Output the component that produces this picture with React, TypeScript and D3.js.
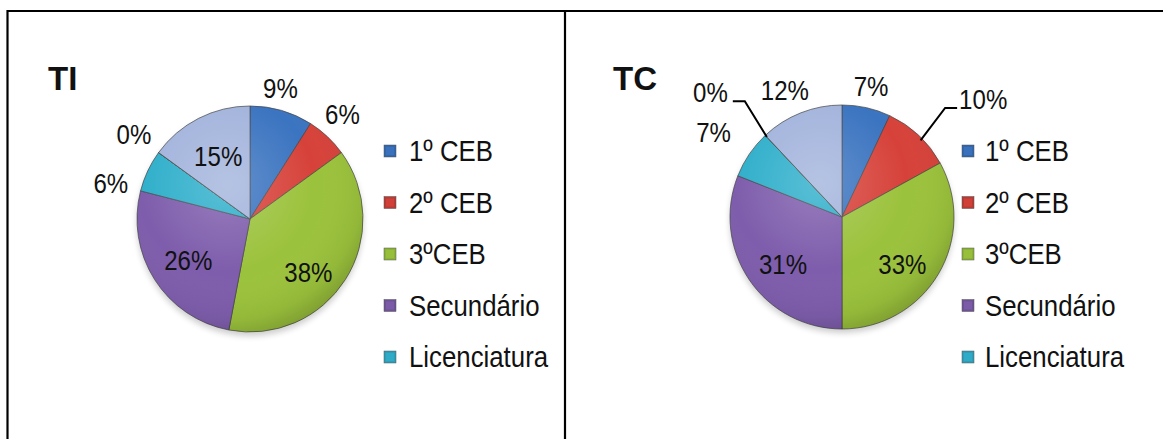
import React from 'react';
import * as d3 from 'd3';

// ---------- data ----------
const categories = ['1º CEB', '2º CEB', '3ºCEB', 'Secundário', 'Licenciatura', 'Série 6', 'Série 7'];
const legendShown = 5;
const tiValues = [9, 6, 38, 26, 6, 0, 15];
const tcValues = [7, 10, 33, 31, 7, 0, 12];
const titles = ['TI', 'TC'];

// ---------- styles / layout ----------
const colors = ['#3B74C0', '#D6423A', '#9BC23C', '#7E5DAC', '#30AFCB', '#F79646', '#A3B4DC'];
const legendColors = ['#3266AD', '#B73A33', '#8DB23A', '#6E5296', '#2E9DB8', '#E0863C', '#93A4CC'];

type LabelLayout = { rf: number; da: number; leader?: 'left' | 'right' };
const tiLabels: LabelLayout[] = [
  { rf: 1.18, da: -3 },
  { rf: 1.23, da: -1.5 },
  { rf: 0.7, da: 10 },
  { rf: 0.66, da: -1.7 },
  { rf: 1.27, da: -11 },
  { rf: 1.27, da: 0 },
  { rf: 0.62, da: 0 },
];
const tcLabels: LabelLayout[] = [
  { rf: 1.19, da: 0 },
  { rf: 1.34, da: 0, leader: 'right' },
  { rf: 0.69, da: 8 },
  { rf: 0.68, da: -5 },
  { rf: 1.37, da: -1 },
  { rf: 1.35, da: 3.2, leader: 'left' },
  { rf: 1.24, da: -2.7 },
];

const panels = [
  { values: tiValues, labels: tiLabels, title: titles[0], cx: 250, cy: 219, r: 113, titleX: 48, sqX: 384, textX: 409 },
  { values: tcValues, labels: tcLabels, title: titles[1], cx: 842, cy: 217, r: 112, titleX: 613, sqX: 962, textX: 985 },
];

const FONT = "'Liberation Sans', Arial, sans-serif";
const SX = 0.86;
const LABEL_SIZE = 28;
const LEGEND_SIZE = 30;
const LEGEND_Y0 = 161;
const LEGEND_STEP = 51.5;

const toRad = (deg: number) => (deg * Math.PI) / 180;

function NText(props: { x: number; y: number; size: number; anchor?: string; weight?: string; sx?: number; children: React.ReactNode }) {
  const { x, y, size, anchor = 'start', weight = 'normal', sx = SX, children } = props;
  return (
    <text
      transform={`translate(${x},${y}) scale(${sx},1)`}
      fontFamily={FONT}
      fontSize={size}
      fontWeight={weight}
      textAnchor={anchor}
      fill="#111"
    >
      {children}
    </text>
  );
}

function PiePanel({ p, idx }: { p: (typeof panels)[number]; idx: number }) {
  const pie = d3.pie<number>().sort(null).value((d) => d).startAngle(0).endAngle(2 * Math.PI);
  const arcs = pie(p.values);
  const arc = d3.arc<d3.PieArcDatum<number>>().innerRadius(0).outerRadius(p.r);
  const polar = (deg: number, rr: number) => [p.cx + Math.sin(toRad(deg)) * rr, p.cy - Math.cos(toRad(deg)) * rr];
  const gid = `shade${idx}`;

  return (
    <g>
      <defs>
        <radialGradient id={gid} cx="40%" cy="35%" r="70%">
          <stop offset="0%" stopColor="#fff" stopOpacity={0.2} />
          <stop offset="55%" stopColor="#fff" stopOpacity={0} />
          <stop offset="85%" stopColor="#000" stopOpacity={0.05} />
          <stop offset="100%" stopColor="#000" stopOpacity={0.2} />
        </radialGradient>
        <filter id={`blur${idx}`} x="-20%" y="-20%" width="140%" height="140%">
          <feGaussianBlur stdDeviation="3" />
        </filter>
      </defs>
      <NText x={p.titleX} y={90} size={33} weight="bold" sx={1}>{p.title}</NText>
      <circle cx={p.cx} cy={p.cy + 4} r={p.r} fill="#000" opacity={0.2} filter={`url(#blur${idx})`} />
      <g transform={`translate(${p.cx},${p.cy})`}>
        {arcs.map((a, i) => (
          <path key={i} d={arc(a) || ''} fill={colors[i]} stroke="#444" strokeOpacity={0.7} strokeWidth={1} />
        ))}
        <circle r={p.r} fill={`url(#${gid})`} />
      </g>
      {arcs.map((a, i) => {
        const L = p.labels[i];
        const midDeg = (((a.startAngle + a.endAngle) / 2) * 180) / Math.PI;
        const text = `${p.values[i]}%`;
        if (L.leader) {
          const p0 = polar(L.leader === 'right' ? midDeg + 2.5 : midDeg, p.r * 0.98);
          const p1 = polar(midDeg + L.da + (L.leader === 'right' ? 0.2 : 0), p.r * L.rf);
          const dir = L.leader === 'right' ? 1 : -1;
          const p2 = [p1[0] + dir * 12, p1[1]];
          return (
            <g key={i}>
              <polyline points={`${p0[0]},${p0[1]} ${p1[0]},${p1[1]} ${p2[0]},${p2[1]}`} fill="none" stroke="#000" strokeWidth={2} />
              <NText x={p2[0] + dir * (L.leader === 'right' ? 2 : 5)} y={p1[1] + 1} size={LABEL_SIZE} anchor={L.leader === 'right' ? 'start' : 'end'}>
                {text}
              </NText>
            </g>
          );
        }
        const [x, y] = polar(midDeg + L.da, p.r * L.rf);
        return (
          <NText key={i} x={x} y={y + LABEL_SIZE * 0.33} size={LABEL_SIZE} anchor="middle">
            {text}
          </NText>
        );
      })}
      {categories.slice(0, legendShown).map((c, i) => {
        const by = LEGEND_Y0 + i * LEGEND_STEP;
        return (
          <g key={c}>
            <rect x={p.sqX} y={by - 16} width={12} height={12} fill={legendColors[i]} stroke="#555" strokeWidth={0.5} />
            <rect x={p.sqX + 2} y={by - 14} width={8} height={8} fill={colors[i]} opacity={0.8} />
            <NText x={p.textX} y={by} size={LEGEND_SIZE}>{c}</NText>
          </g>
        );
      })}
    </g>
  );
}

export default function App() {
  return (
    <svg width={1164} height={439} style={{ position: 'absolute', left: 0, top: 0, background: '#fff' }}>
      <rect width={1164} height={439} fill="#fff" />
      <line x1={7.5} y1={11} x2={1163} y2={11} stroke="#000" strokeWidth={2.2} />
      <line x1={7.5} y1={10} x2={7.5} y2={439} stroke="#000" strokeWidth={2.2} />
      <line x1={565} y1={10} x2={565} y2={439} stroke="#000" strokeWidth={2.2} />
      {panels.map((p, i) => (
        <PiePanel key={i} p={p} idx={i} />
      ))}
    </svg>
  );
}
